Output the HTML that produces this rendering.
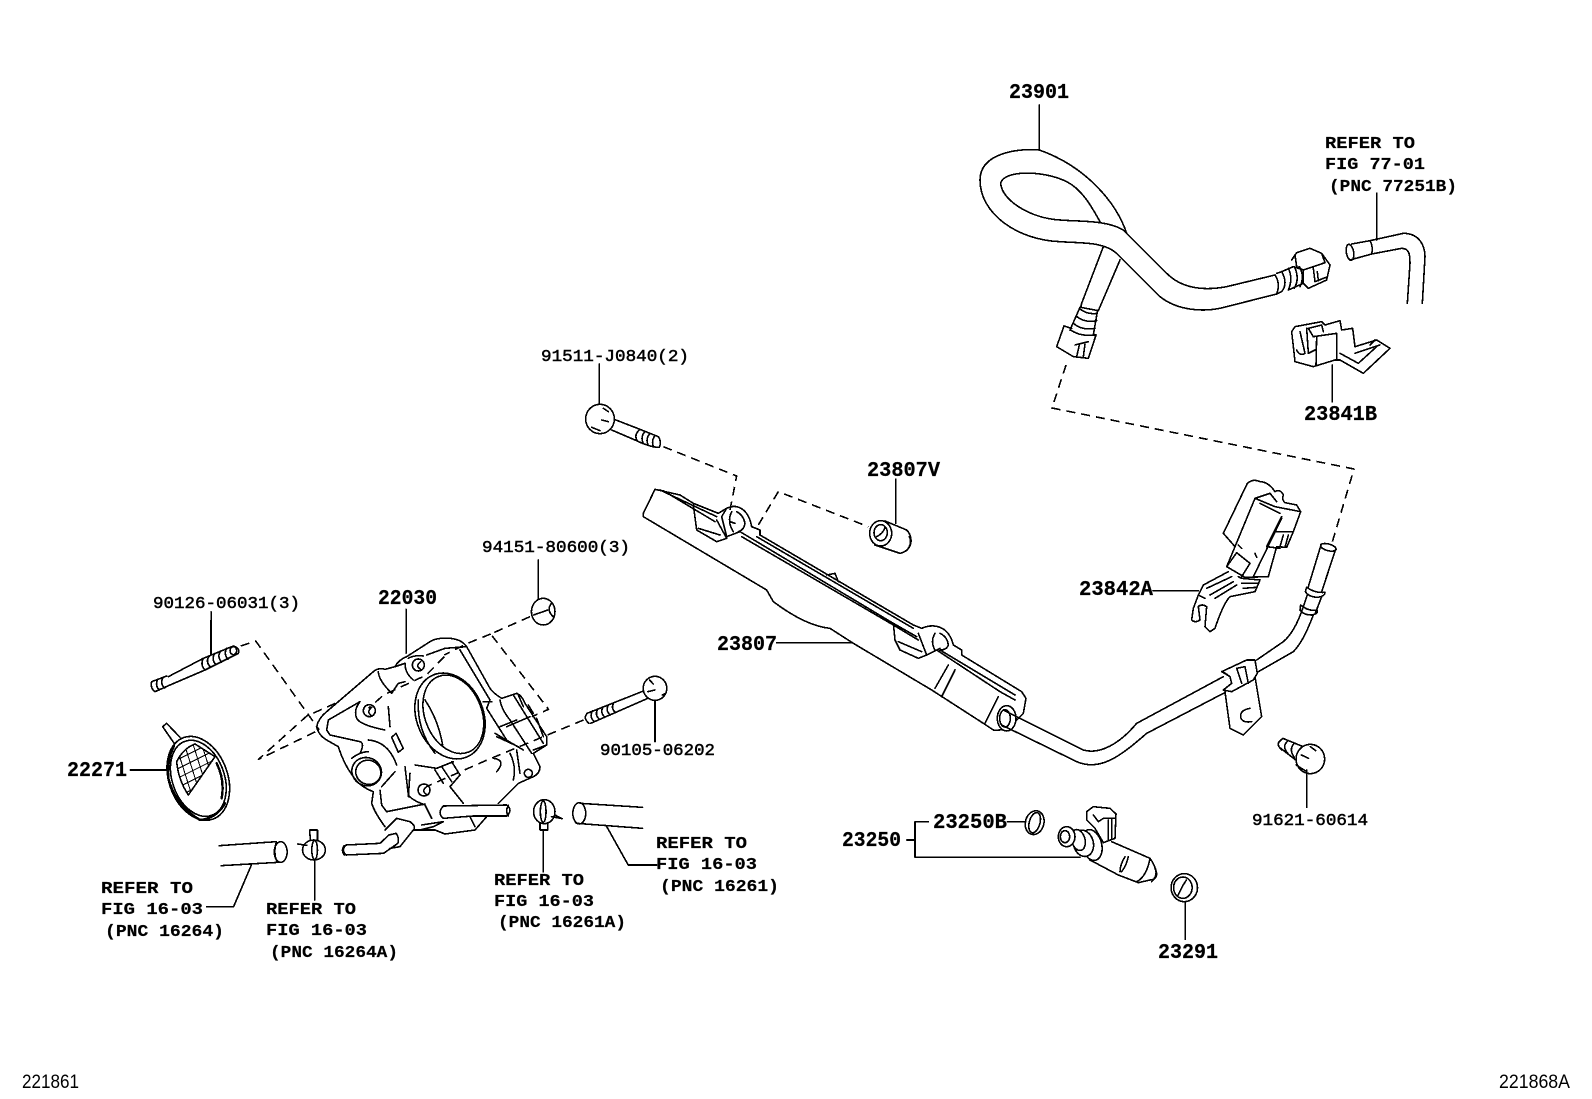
<!DOCTYPE html>
<html><head><meta charset="utf-8">
<style>
html,body{margin:0;padding:0;background:#fff}
svg{display:block}
path,line,ellipse,circle,polyline{fill:none;stroke:#000;stroke-width:1.6;vector-effect:non-scaling-stroke;stroke-linejoin:round;stroke-linecap:round;shape-rendering:crispEdges}
.d{stroke-dasharray:9 6;stroke-linecap:butt}
.w{fill:#fff}
.h{stroke-width:2.4}
.t{stroke-width:1}
text{fill:#000;font-family:"Liberation Mono",monospace}
.b{font-size:21px;font-weight:bold;stroke:#000;stroke-width:.25}
.m{font-size:17px;stroke:#000;stroke-width:.5}
.r{font-size:17px;font-weight:bold;stroke:#000;stroke-width:.2}
.n{font-family:"Liberation Sans",sans-serif;font-size:19px}
</style></head><body>
<svg xmlns="http://www.w3.org/2000/svg" width="1592" height="1099" viewBox="0 0 1592 1099">
<rect width="1592" height="1099" fill="#fff"/>
<defs><clipPath id="mesh"><path d="M80,425 Q100,385 135,372 L195,410 L115,525 Q85,480 80,425Z"/></clipPath></defs>

<!-- crop 1 : dashes, small parts -->
<g transform="translate(130 560) scale(.35714 .33333)">
<path class="d" d="M310,258 L352,243 L530,510"/>
<path class="d" d="M575,430 L495,468 L360,598 L520,515"/>
<path class="d" d="M1120,170 L1010,222 L1172,448 L1125,470"/>
<path class="d" d="M1010,222 L945,250 L880,285 M880,290 L830,345 L710,405 L668,445"/>
<path class="d" d="M1270,480 L1000,600 L830,680"/>
<path d="M605,855 L700,850 L725,825 L745,820 Q755,835 750,850 L710,880 L605,885 Q590,870 605,855Z M600,857 Q590,870 600,885"/>
<!-- hoses & clamps -->
<path d="M250,857 L410,845 M255,917 L415,907"/>
<ellipse cx="422" cy="876" rx="18" ry="31"/>
<path d="M410,846 Q400,876 412,906"/>
<path d="M340,915 L290,1040 L215,1040"/>
<ellipse cx="515" cy="870" rx="32" ry="30"/><ellipse cx="517" cy="870" rx="8" ry="28"/>
<path d="M505,840 L503,810 L525,810 L525,840 M470,852 L495,856"/>
<line x1="517" y1="900" x2="517" y2="1020"/>
<ellipse cx="1160" cy="755" rx="30" ry="36"/><ellipse cx="1157" cy="755" rx="8" ry="32"/>
<path d="M1148,788 L1148,810 L1170,810 L1170,788 M1190,765 L1210,776 L1180,770"/>
<line x1="1157" y1="810" x2="1157" y2="935"/>
<ellipse cx="1258" cy="760" rx="18" ry="32"/>
<path d="M1260,730 L1435,742 M1250,790 L1435,805"/>
<path d="M1335,800 L1395,915 L1475,915"/>
<!-- nut & bolt -->
<line x1="1143" y1="0" x2="1143" y2="115"/>
<ellipse class="w" cx="1157" cy="155" rx="33" ry="40"/>
<path d="M1180,130 Q1165,150 1185,170 M1130,165 L1170,150"/>
<path d="M1280,460 L1440,392 M1290,490 L1450,415"/>
<path d="M1280,460 Q1268,475 1285,490 M1295,453 Q1285,470 1300,485 M1310,447 Q1300,465 1315,478 M1325,440 Q1315,458 1330,472 M1340,434 Q1330,452 1345,465 M1355,428 Q1345,445 1360,458"/>
<ellipse class="w" cx="1470" cy="385" rx="33" ry="36"/>
<path d="M1455,360 L1465,372 M1450,395 L1470,390 M1490,405 L1500,400"/>
<line x1="1470" y1="420" x2="1470" y2="545"/>
<line x1="773" y1="148" x2="773" y2="280"/>
<line x1="227" y1="155" x2="227" y2="285"/>
<line x1="0" y1="630" x2="108" y2="630"/>
</g>

<!-- throttle body -->
<g transform="translate(310 630) scale(.33333)">
<path d="M20,290 Q25,265 50,245 L190,125 Q205,112 225,118 L255,110 Q265,90 290,80 L360,35 Q380,22 420,25 Q455,28 470,50 L540,175 Q550,190 575,205 L620,190 Q635,195 645,220 L710,320 L710,345 L670,370 L690,410 Q690,430 670,440 L625,460 L565,520"/>
<path d="M530,560 L495,600 L405,612 L375,600 L315,600"/>
<path d="M20,290 Q25,315 50,330 L85,350 Q100,400 130,440 Q150,470 190,485 L185,520 Q195,550 225,590"/>
<path d="M210,480 L215,525 L230,545 L345,522"/>
<path d="M50,300 L55,270 L150,215 M50,300 L60,315 L150,335 Q165,340 150,370"/>
<path d="M150,215 Q130,240 140,265 Q150,285 225,300 M235,230 L240,290"/>
<ellipse cx="178" cy="242" rx="18" ry="18"/>
<path d="M185,232 Q168,245 185,258"/>
<path d="M245,322 L258,310 L280,355 L265,367Z"/>
<ellipse cx="170" cy="425" rx="45" ry="42" transform="rotate(25 170 425)"/>
<ellipse cx="175" cy="427" rx="38" ry="36" transform="rotate(25 175 427)"/>
<path d="M125,385 Q150,365 175,365 M175,330 Q235,335 260,405 M215,470 L255,425"/>
<path d="M205,125 Q205,150 245,190 L265,160 L285,155 M255,110 L285,100 Q285,130 310,150"/>
<ellipse cx="325" cy="105" rx="18" ry="18"/>
<path d="M332,95 Q315,108 332,118"/>
<path d="M295,85 Q310,75 340,78 M350,75 L405,55 L470,50"/>
<ellipse cx="420" cy="258" rx="100" ry="133" transform="rotate(-22 420 258)"/>
<ellipse cx="430" cy="253" rx="85" ry="122" transform="rotate(-22 430 253)"/>
<path d="M345,210 Q385,270 398,345 M325,210 Q320,300 375,370"/>
<path d="M450,60 L540,210 L530,235 L590,330 M520,215 L545,215 M570,210 Q575,240 600,270 L665,370 M610,195 L700,340 M625,195 L640,230 M655,225 L670,250 M680,265 L700,320 M570,290 L620,270 M590,290 L660,260 M555,310 L640,360 M560,320 L625,350 M600,370 Q620,410 610,450 M620,360 L630,430 M550,385 Q590,390 560,425 M670,360 L710,345"/>
<circle cx="655" cy="430" r="12"/>
<path d="M285,410 L295,495 Q305,510 345,525 L365,565 M300,430 L295,500"/>
<ellipse cx="342" cy="480" rx="18" ry="18"/>
<path d="M350,470 Q333,482 350,494"/>
<path d="M315,405 L380,415 L430,395 M375,420 L400,460 M395,410 L425,455 M425,395 L450,435 L420,470 Q440,495 460,520 M480,560 L495,590"/>
<path class="w" d="M400,528 L590,525 Q610,540 590,558 L490,558 L400,565 Q380,550 400,528Z"/>
<path d="M595,526 Q585,542 595,558"/>
<path d="M225,600 L260,565 L300,575 Q320,590 310,600 L270,650 L240,655 M335,585 L400,575 L370,590 L330,600 M310,600 L375,600"/>
</g>

<!-- filter + stud -->
<g transform="translate(150 620) scale(.33333)">
<path d="M183,0 L183,105"/>
<path d="M55,170 L160,115 M60,195 L165,150"/>
<path d="M5,185 L50,168 M15,215 L60,195 M5,185 Q0,205 15,215 M22,180 Q15,198 28,210 M38,174 Q30,192 44,204"/>
<path d="M160,115 L250,78 Q272,85 265,100 L165,150 Q150,135 160,115 M178,108 Q165,125 182,142 M195,100 Q182,118 198,134 M212,93 Q200,110 215,126 M230,85 Q220,102 234,118"/>
<ellipse cx="250" cy="92" rx="10" ry="12"/>
<ellipse class="w" cx="145" cy="475" rx="88" ry="130" transform="rotate(-20 145 475)"/>
<ellipse cx="145" cy="475" rx="78" ry="118" transform="rotate(-20 145 475)"/>
<path d="M38,320 L50,310 L90,352 M38,320 L74,372"/>
<path class="h" d="M72,378 Q50,420 55,475 Q75,555 150,600 Q200,595 225,550"/>
<path class="h" d="M200,430 Q225,480 215,535"/>
<g clip-path="url(#mesh)">
<path class="t" d="M60,430 L220,350 M60,458 L220,378 M60,486 L220,406 M60,514 L220,434 M60,542 L220,462 M60,570 L220,490"/>
<path class="t" d="M70,350 L130,540 M96,350 L156,540 M122,350 L182,540 M148,350 L208,540 M174,350 L234,540 M44,350 L104,540"/>
</g>
<path d="M80,425 Q100,385 135,372 L195,410 L115,525 Q85,480 80,425Z"/>
</g>

<!-- crop 2 : fuel hose -->
<g transform="translate(960 70) scale(.33333)">
<line x1="238" y1="105" x2="238" y2="240"/>
<path d="M500,490 C470,400 380,290 238,240 C170,235 60,250 60,330 C60,430 170,510 300,515 C370,520 430,515 470,550 L490,570 L600,680 C650,720 730,730 800,710 L950,672"/>
<path d="M420,455 C400,420 370,360 320,335 C250,300 130,300 122,340 C125,390 210,445 300,450 C360,455 440,450 490,480 L620,610 C660,650 720,665 800,650 L945,615"/>
<path d="M430,530 L365,700 L362,712 L415,722 L480,570"/>
<path d="M358,715 Q380,735 412,730 M348,738 Q375,760 410,752 M340,760 Q365,782 405,775 M332,780 Q360,800 402,795"/>
<path d="M360,712 L330,780 M412,725 L400,795"/>
<path d="M312,768 L290,830 L340,860 L385,865 L408,795 L400,795 M312,768 L335,775 M345,825 L385,815 M358,825 L350,860 M375,822 L370,860"/>
<path d="M945,615 Q962,640 950,672 M950,610 L965,605 Q985,640 965,665 L950,672"/>
<path d="M965,605 L1000,590 L1030,600 L1030,640 L985,660 M985,595 Q1000,625 985,660 M1003,590 Q1020,625 1003,655 M1018,590 Q1035,620 1020,650"/>
<path d="M995,570 L1010,548 L1050,535 L1085,550 L1110,585 L1100,630 L1045,655 L1030,640 M1005,555 L1010,590 L1030,600 L1095,578 L1085,550 M1060,595 L1065,635 L1098,622 M1072,605 L1075,632"/>
<line x1="1250" y1="370" x2="1250" y2="510"/>
<path d="M1175,522 L1230,512 L1330,490 C1380,490 1395,530 1395,560 L1387,700 M1170,570 L1235,552 L1325,535 C1350,535 1350,560 1350,580 L1342,700 M1230,512 Q1240,530 1235,552"/>
<ellipse cx="1170" cy="547" rx="11" ry="24" transform="rotate(-10 1170 547)"/>
<line x1="1117" y1="885" x2="1117" y2="995"/>
<path d="M995,785 L1005,770 L1085,755 L1095,765 L1140,752 L1145,780 L1178,775 L1185,830 L1250,810 L1290,835 L1210,910 L1140,870 L1125,870 L1060,890 L1005,875 L1000,830Z"/>
<path d="M1060,800 L1130,790 L1130,870 M1070,800 L1068,885 M1020,785 L1035,850 Q1020,860 1010,840 M1040,775 L1045,850 L1065,840 M1060,800 L1045,775 L1085,765 L1090,785 M1140,850 L1195,880 L1250,830 M1185,850 L1260,825 M1230,825 L1245,810"/>
</g>

<!-- dashed long -->
<path class="d" d="M1066,365 L1052,408 L1354,469 L1332,543"/>

<!-- crop 3 : fuel rail -->
<g transform="translate(560 340) scale(.33333)">
<line x1="118" y1="72" x2="118" y2="195"/>
<path d="M160,237 L240,268 M155,270 L225,300 M240,268 L295,290 Q305,305 298,322 Q270,322 225,300"/>
<path d="M240,268 Q220,285 232,302 M255,274 Q240,292 250,310 M270,280 Q255,298 265,316 M285,286 Q272,305 282,322"/>
<ellipse class="w" cx="120" cy="237" rx="43" ry="44"/>
<path d="M130,205 L145,215 M125,240 L145,245 M95,262 L120,272"/>
<path class="d" d="M310,320 L530,408 L510,510"/>
<path class="d" d="M595,555 L655,455 L925,560"/>
<line x1="1007" y1="418" x2="1007" y2="550"/>
<path d="M975,543 L1040,570 C1060,590 1060,630 1020,640 L945,615"/>
<path d="M1048,590 Q1058,610 1040,632"/>
<ellipse class="w" cx="962" cy="580" rx="33" ry="38"/>
<ellipse cx="962" cy="578" rx="20" ry="24"/>
<path d="M975,562 Q970,580 950,590"/>
<path d="M250,520 L285,448 L360,465 L400,490 L475,520 L500,505 C530,490 565,505 575,560 L600,570 L600,585 L1060,855 L1085,865 C1120,850 1165,855 1180,915 L1205,930 L1205,945 L1385,1055 L1398,1075 L1390,1120 C1360,1150 1340,1175 1300,1170 L1270,1150 L1115,1050 L880,910 L810,865 C760,860 700,830 640,785 L620,750 L250,530Z"/>
<path d="M300,450 L470,530 M310,452 L465,545 M400,495 L410,570 L470,605 L500,595 L470,540 M415,565 L480,585 M500,505 L485,530 L500,590 L540,575"/>
<path d="M515,515 Q500,545 520,575 M530,515 Q550,525 555,550 Q552,570 535,575 M510,545 L525,550"/>
<path d="M540,575 L1000,850 L1070,890 M545,590 L1000,855 L1075,900 M590,590 L1060,865 M600,585 L1000,820"/>
<path d="M800,705 L825,700 L835,725"/>
<path d="M1000,850 L1005,900 L1020,930 L1075,955 L1100,945 L1075,880 M1015,905 L1085,935 M1100,945 L1140,925"/>
<path d="M1125,880 Q1110,905 1125,930 M1140,880 Q1162,890 1165,915 Q1160,930 1140,930"/>
<path d="M1165,975 L1125,1045 M1185,990 L1145,1070 M1315,1070 L1275,1150 M1130,930 L1320,1055 L1365,1080 M1140,930 L1365,1065"/>
<ellipse class="w" cx="1340" cy="1135" rx="28" ry="38"/><ellipse cx="1335" cy="1135" rx="16" ry="26"/>
<line x1="650" y1="908" x2="875" y2="908"/>
</g>

<!-- crop 4 : tube -->
<g transform="translate(960 460) scale(.33333)">
<path d="M130,750 L370,870 C420,885 480,850 530,790 L790,650 M125,795 L350,905 C420,935 480,890 560,820 L800,695"/>
<path d="M890,600 L970,545 C1000,520 1020,470 1030,440 M895,635 L1000,575 C1030,545 1050,490 1060,465"/>
<path d="M1022,435 Q1045,455 1072,450 Q1075,462 1055,465 Q1030,465 1020,450Z M1040,382 Q1065,400 1095,397 Q1095,410 1070,412 Q1045,410 1036,395Z M1030,440 L1042,405 M1065,462 L1085,410"/>
<path d="M1045,380 L1083,255 M1085,395 L1128,265"/>
<ellipse cx="1105" cy="262" rx="24" ry="10" transform="rotate(15 1105 262)"/>
<path class="w" d="M795,695 L810,805 L850,825 L905,770 L885,650"/>
<path d="M870,745 Q840,750 842,770 Q845,790 875,785"/>
<path class="w" d="M785,635 L860,600 L885,600 L892,640 L880,660 L815,695 L790,690 L815,670 L810,650Z"/>
<path d="M830,625 L855,620 L865,670 M830,625 L845,670 M810,650 Q790,635 785,635"/>
</g>

<!-- sensor 23842A -->
<g transform="translate(1170 470) scale(.33333)">
<path d="M160,190 L232,40 Q250,25 270,35 Q295,35 315,65 Q330,55 340,75 Q335,90 345,98 L380,105 L392,125 L370,185 L350,232 L320,230 L295,320 L225,322 L170,290 L195,230 L160,190Z"/>
<path d="M195,230 L255,85 L315,110 L392,125 M255,85 L300,70 L320,95 M335,140 L290,230 L330,235 M315,185 L370,185 M340,195 L330,230 M355,195 L345,232 M335,145 L250,320 M170,290 L200,248 L240,280 L215,320 M270,100 L330,130 M205,225 L215,235 M255,250 L260,262"/>
<path d="M175,305 L100,345 L85,375 L70,415 L65,450 Q75,460 90,450 L85,410 Q95,400 110,410 L105,470 L120,485 L135,475 Q160,400 180,380 L255,365 L270,330 L215,325 L205,320 M110,355 L185,320 M120,375 L190,335 M135,385 L200,345 M105,385 L85,375 M215,340 L265,340 M220,355 L260,352"/>
<line x1="-51" y1="362" x2="85" y2="362"/>
</g>

<!-- crop 5 : leaders etc -->
<g transform="translate(830 730) scale(.35714 .33333)">
<path d="M1258,35 L1268,25 L1325,50 M1262,55 L1310,95 M1258,35 Q1250,45 1265,60 M1280,35 Q1265,50 1282,70 M1298,42 Q1285,60 1300,82"/>
<ellipse class="w" cx="1345" cy="87" rx="40" ry="44"/>
<path d="M1345,50 L1360,62 M1320,75 L1340,85 M1305,105 L1335,125"/>
<line x1="1335" y1="120" x2="1335" y2="232"/>
<path d="M238,275 L275,275 M215,330 L238,330 M238,275 L238,382 L700,382 M497,275 L548,275"/>
<ellipse cx="573" cy="278" rx="26" ry="36" transform="rotate(12 573 278)"/>
<ellipse cx="573" cy="278" rx="15" ry="31" transform="rotate(14 573 278)"/>
<ellipse cx="992" cy="473" rx="37" ry="42"/>
<ellipse cx="988" cy="473" rx="26" ry="32"/>
<path d="M998,450 Q985,470 975,495"/>
<line x1="995" y1="515" x2="995" y2="628"/>
</g>

<!-- injector -->
<g transform="translate(1040 790) scale(.33333)">
<path d="M215,155 L330,205 Q345,225 350,250 Q350,270 330,270 L295,278 L235,255 L150,210"/>
<path d="M330,205 Q320,260 290,275 M255,200 Q240,225 240,245 M265,200 Q260,225 245,245 M345,235 Q355,255 335,275"/>
<path class="w" d="M140,65 L160,50 L210,55 L228,72 L225,145 L190,158 L165,115 L140,90Z"/>
<path d="M160,75 L175,95 L190,85 L225,85 M205,90 L205,150 M215,88 L215,148"/>
<ellipse class="w" cx="155" cy="165" rx="30" ry="47" transform="rotate(-15 155 165)"/>
<ellipse class="w" cx="130" cy="160" rx="30" ry="40" transform="rotate(-15 130 160)"/>
<ellipse class="w" cx="115" cy="150" rx="20" ry="32" transform="rotate(-15 115 150)"/>
<ellipse class="w" cx="80" cy="140" rx="25" ry="30"/>
<ellipse cx="75" cy="140" rx="14" ry="18"/>
</g>

<!-- labels -->
<g transform="translate(0 -1)">
<text class="b" x="1009" y="99" textLength="60" lengthAdjust="spacingAndGlyphs">23901</text>
<text class="b" x="378" y="605" textLength="59" lengthAdjust="spacingAndGlyphs">22030</text>
<text class="b" x="867" y="477" textLength="73" lengthAdjust="spacingAndGlyphs">23807V</text>
<text class="b" x="717" y="651" textLength="60" lengthAdjust="spacingAndGlyphs">23807</text>
<text class="b" x="1304" y="421" textLength="73" lengthAdjust="spacingAndGlyphs">23841B</text>
<text class="b" x="1079" y="596" textLength="74" lengthAdjust="spacingAndGlyphs">23842A</text>
<text class="b" x="1158" y="959" textLength="60" lengthAdjust="spacingAndGlyphs">23291</text>
<text class="b" x="933" y="829" textLength="74" lengthAdjust="spacingAndGlyphs">23250B</text>
<text class="b" x="842" y="847" textLength="59" lengthAdjust="spacingAndGlyphs">23250</text>
<text class="b" x="67" y="777" textLength="60" lengthAdjust="spacingAndGlyphs">22271</text>

<text class="m" x="153" y="609" textLength="147" lengthAdjust="spacingAndGlyphs">90126-06031(3)</text>
<text class="m" x="482" y="553" textLength="148" lengthAdjust="spacingAndGlyphs">94151-80600(3)</text>
<text class="m" x="600" y="756" textLength="115" lengthAdjust="spacingAndGlyphs">90105-06202</text>
<text class="m" x="541" y="362" textLength="148" lengthAdjust="spacingAndGlyphs">91511-J0840(2)</text>
<text class="m" x="1252" y="826" textLength="116" lengthAdjust="spacingAndGlyphs">91621-60614</text>

<text class="r" x="101" y="894" textLength="92" lengthAdjust="spacingAndGlyphs">REFER TO</text>
<text class="r" x="101" y="915" textLength="102" lengthAdjust="spacingAndGlyphs">FIG 16-03</text>
<text class="r" x="105" y="937" textLength="119" lengthAdjust="spacingAndGlyphs">(PNC 16264)</text>
<text class="r" x="266" y="915" textLength="90" lengthAdjust="spacingAndGlyphs">REFER TO</text>
<text class="r" x="266" y="936" textLength="101" lengthAdjust="spacingAndGlyphs">FIG 16-03</text>
<text class="r" x="270" y="958" textLength="128" lengthAdjust="spacingAndGlyphs">(PNC 16264A)</text>
<text class="r" x="494" y="886" textLength="90" lengthAdjust="spacingAndGlyphs">REFER TO</text>
<text class="r" x="494" y="907" textLength="100" lengthAdjust="spacingAndGlyphs">FIG 16-03</text>
<text class="r" x="498" y="928" textLength="128" lengthAdjust="spacingAndGlyphs">(PNC 16261A)</text>
<text class="r" x="656" y="849" textLength="91" lengthAdjust="spacingAndGlyphs">REFER TO</text>
<text class="r" x="656" y="870" textLength="101" lengthAdjust="spacingAndGlyphs">FIG 16-03</text>
<text class="r" x="660" y="892" textLength="119" lengthAdjust="spacingAndGlyphs">(PNC 16261)</text>
<text class="r" x="1325" y="149" textLength="90" lengthAdjust="spacingAndGlyphs">REFER TO</text>
<text class="r" x="1325" y="170" textLength="100" lengthAdjust="spacingAndGlyphs">FIG 77-01</text>
<text class="r" x="1329" y="192" textLength="128" lengthAdjust="spacingAndGlyphs">(PNC 77251B)</text>

<text class="n" x="22" y="1089" textLength="57" lengthAdjust="spacingAndGlyphs">221861</text>
<text class="n" x="1499" y="1089" textLength="71" lengthAdjust="spacingAndGlyphs">221868A</text>
</g>
</svg>
</body></html>
